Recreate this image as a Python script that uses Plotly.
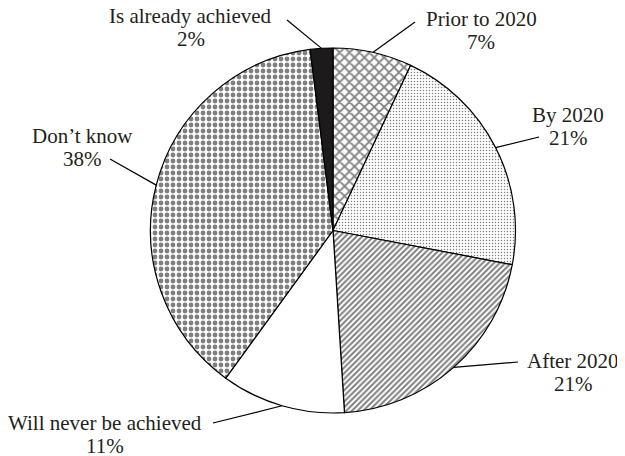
import math
import plotly.graph_objects as go

# data
labels = ["Prior to 2020", "By 2020", "After 2020", "Will never be achieved",
          "Don\u2019t know", "Is already achieved"]
values = [7, 21, 21, 11, 38, 2]

# styling
shapes_pat = ["x", ".", "/", "", ".", ""]
pat_size = [7, 3, 4, 6, 6, 6]
pat_solid = [0.45, 0.2, 0.5, 0.2, 0.5, 0.2]
fill = ["white", "white", "white", "white", "white", "#1c1a1b"]

# the page body keeps its 8px margin, so the figure is drawn 8px in
OFF = 8
W, H = 625 - OFF, 456 - OFF
cx, cy, r = 333, 230.5, 182.5
font = dict(family="Liberation Serif, Times New Roman, serif", size=21, color="#231f20")

# label centre (x, y of first line) and start of leader line, in window pixels
label_xy = [(481, 19), (568, 115), (573, 361), (105, 423), (82, 136), (191, 16)]
line_from = [(415, 22), (539, 137), (518, 362), (213, 423), (110, 159), (287, 20)]


def px(x):
    return (x - OFF) / W


def py(y):
    return 1 - (y - OFF) / H


fig = go.Figure(go.Pie(
    labels=labels,
    values=values,
    sort=False,
    direction="clockwise",
    rotation=0,
    textinfo="none",
    hoverinfo="label+percent",
    showlegend=False,
    marker=dict(
        colors=fill,
        line=dict(color="black", width=1.2),
        pattern=dict(shape=shapes_pat, size=pat_size, solidity=pat_solid,
                     fgcolor="black", bgcolor=fill, fillmode="overlay"),
    ),
    domain=dict(x=[px(cx - r), px(cx + r)], y=[py(cy + r), py(cy - r)]),
))

total = sum(values)
cum = 0
annotations = []
shapes = []
for i, (lab, v) in enumerate(zip(labels, values)):
    theta = 2 * math.pi * (cum + v / 2) / total
    cum += v
    tx = cx + r * math.sin(theta)
    ty = cy - r * math.cos(theta)
    lx, ly = label_xy[i]
    for j, line in enumerate([lab, f"{round(100 * v / total)}%"]):
        annotations.append(dict(x=px(lx), y=py(ly + 23 * j), xref="paper", yref="paper",
                                text=line, showarrow=False, xanchor="center",
                                yanchor="middle", font=font))
    fx, fy = line_from[i]
    shapes.append(dict(type="line", xref="paper", yref="paper",
                       x0=px(fx), y0=py(fy), x1=px(tx), y1=py(ty),
                       line=dict(color="black", width=1.2)))

fig.update_layout(
    width=W, height=H,
    margin=dict(l=0, r=0, t=0, b=0),
    paper_bgcolor="white",
    plot_bgcolor="white",
    annotations=annotations,
    shapes=shapes,
)

fig.write_html("out.html")
